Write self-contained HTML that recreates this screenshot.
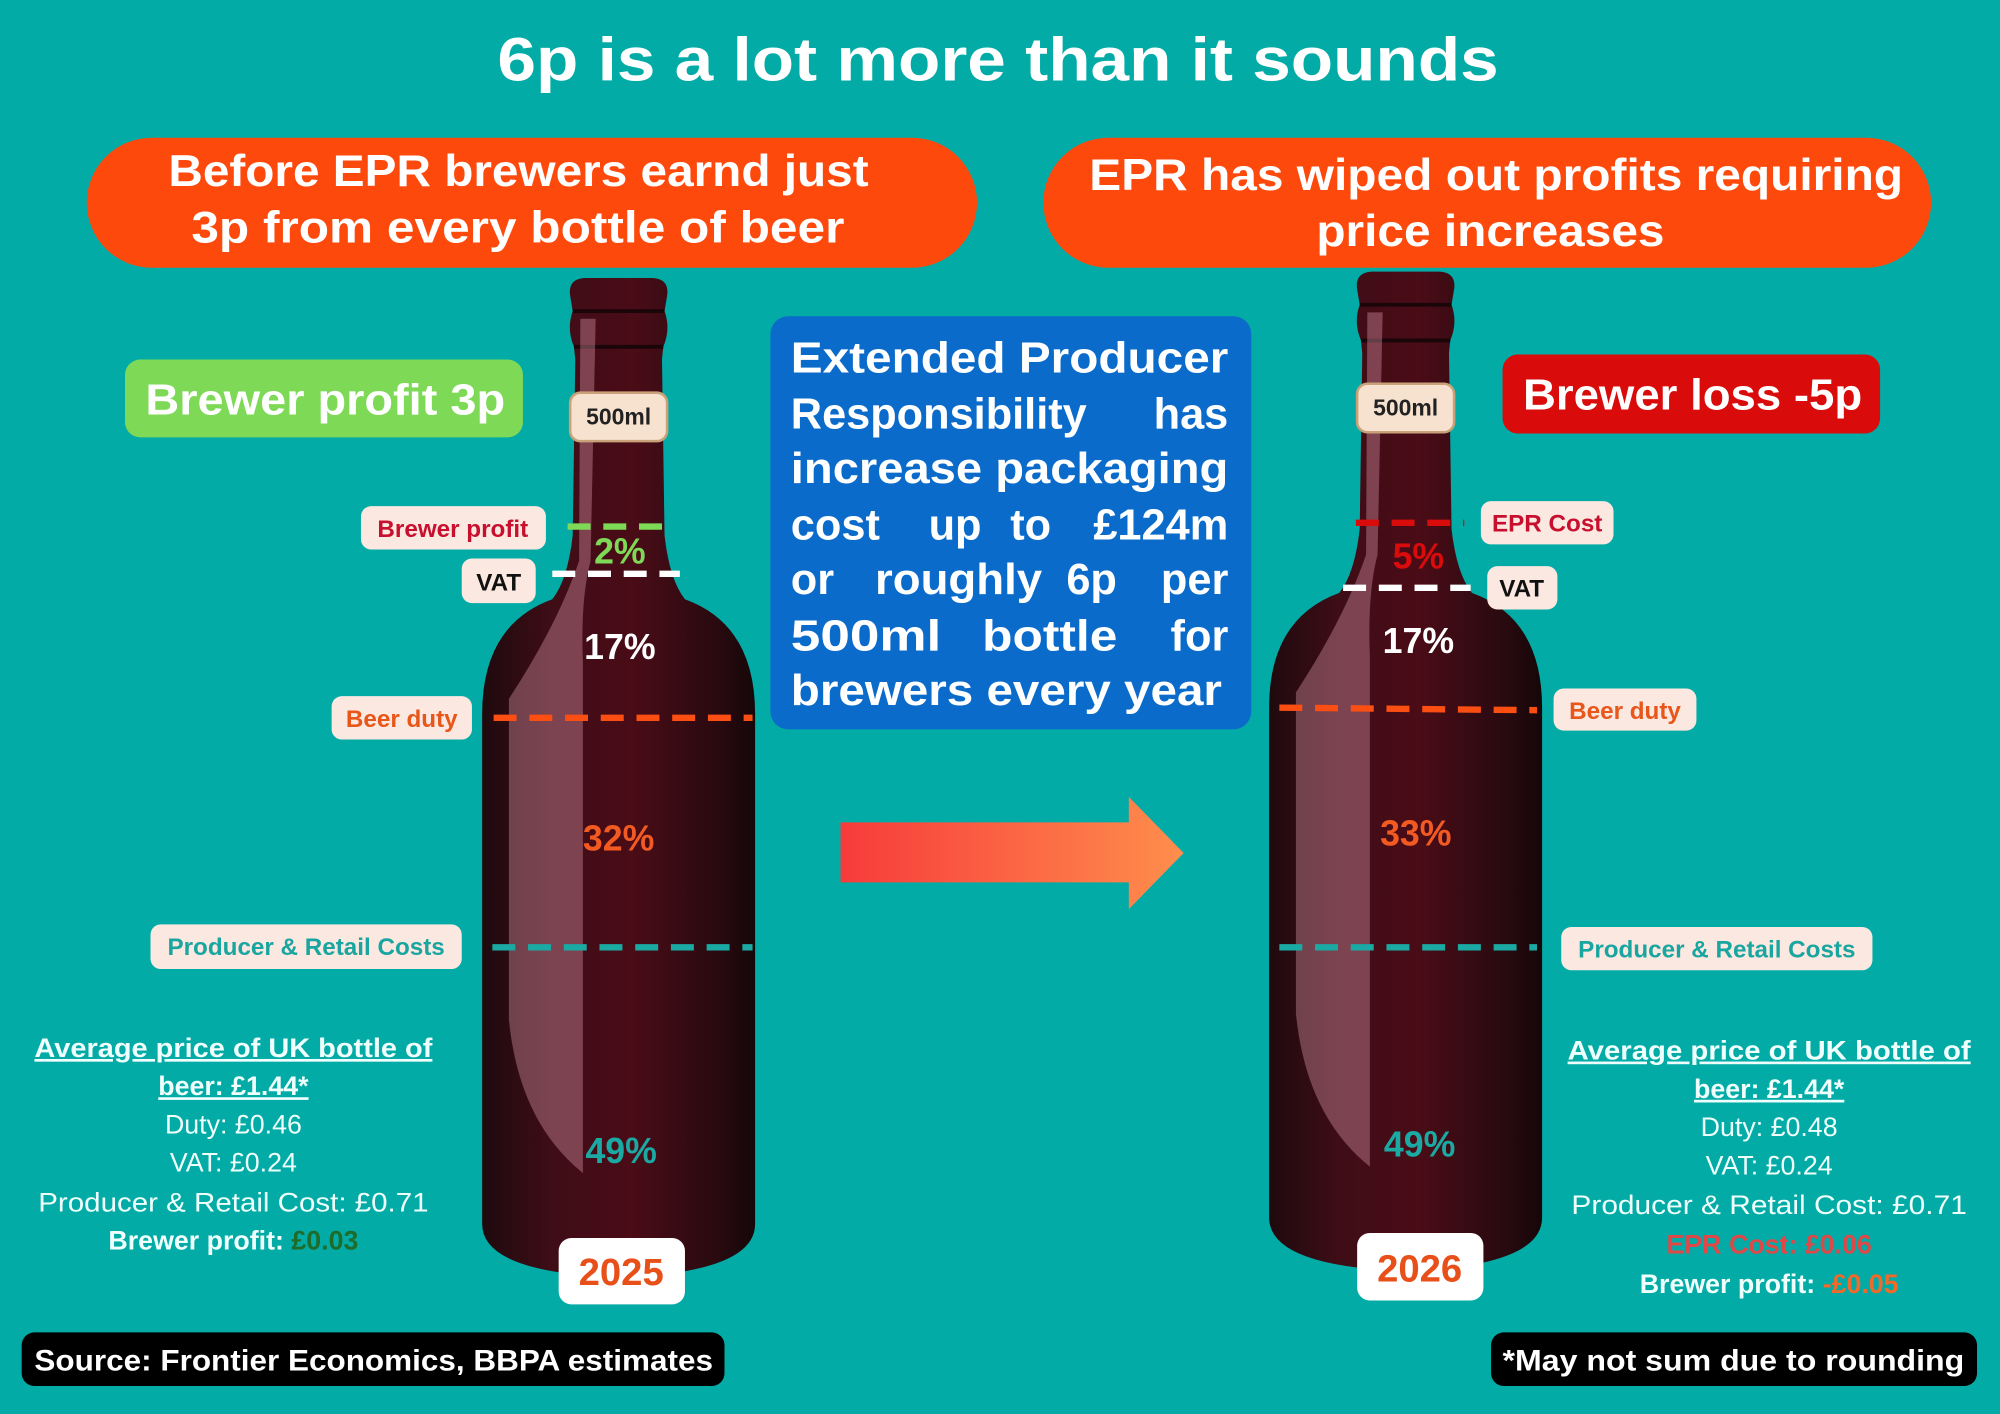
<!DOCTYPE html>
<html><head><meta charset="utf-8"><style>
html,body{margin:0;padding:0;background:#03ABA6;}
svg{display:block;}
text{font-family:"Liberation Sans",sans-serif;}
</style></head><body>
<svg width="2000" height="1414" viewBox="0 0 1568 1109" preserveAspectRatio="none" xmlns="http://www.w3.org/2000/svg">
<defs>
<linearGradient id="bg" x1="0" x2="1" y1="0" y2="0">
<stop offset="0" stop-color="#1e0a0e"/><stop offset="0.25" stop-color="#3e0d16"/><stop offset="0.55" stop-color="#4a0c17"/><stop offset="0.85" stop-color="#2a0a10"/><stop offset="1" stop-color="#160709"/>
</linearGradient>
<linearGradient id="ar" x1="0" x2="1"><stop offset="0" stop-color="#F73B3B"/><stop offset="1" stop-color="#FF8E4C"/></linearGradient>
<g id="bottle">
<path d="M -38,232 Q -40,219 -27,218 L 27,218 Q 40,219 38,232 L 36,244 Q 41,258 35,272 L 34,282 L 36,420 Q 40,455 52,470 Q 107,490 107,560 L 107,960 Q 107,998 0,1002 Q -107,998 -107,960 L -107,560 Q -107,490 -52,470 Q -40,455 -36,420 L -34,282 L -35,272 Q -41,258 -36,244 Z" fill="url(#bg)"/>
<path d="M -36,244 L 36,244" stroke="#1a0508" stroke-width="3"/>
<path d="M -35,272 L 35,272" stroke="#1a0508" stroke-width="3"/>
<path d="M -86,548 L -86,800 Q -78,880 -28,920 L -28,520 Q -30,470 -22,440 L -18,250 L -30,250 L -31,440 Q -48,490 -86,548 Z" fill="rgba(240,170,190,0.35)"/>
</g>
</defs>
<rect width="1568" height="1109" fill="#03ABA6"/>
<text x="390" y="63" font-size="48" font-weight="bold" fill="#fff" textLength="785" lengthAdjust="spacingAndGlyphs">6p is a lot more than it sounds</text>

<rect x="68" y="108" width="698" height="102" rx="51" fill="#FD4A0C"/>
<text x="132" y="146" font-size="35" font-weight="bold" fill="#fff" textLength="549" lengthAdjust="spacingAndGlyphs">Before EPR brewers earnd just</text>
<text x="150" y="190" font-size="35" font-weight="bold" fill="#fff" textLength="512" lengthAdjust="spacingAndGlyphs">3p from every bottle of beer</text>
<rect x="818" y="108" width="696" height="102" rx="51" fill="#FD4A0C"/>
<text x="854" y="149" font-size="35" font-weight="bold" fill="#fff" textLength="638" lengthAdjust="spacingAndGlyphs">EPR has wiped out profits requiring</text>
<text x="1032" y="193" font-size="35" font-weight="bold" fill="#fff" textLength="273" lengthAdjust="spacingAndGlyphs">price increases</text>

<rect x="98" y="282" width="312" height="61" rx="12" fill="#7ED957"/>
<text x="114" y="325" font-size="34" font-weight="bold" fill="#fff" textLength="282" lengthAdjust="spacingAndGlyphs">Brewer profit 3p</text>
<rect x="1178" y="278" width="296" height="62" rx="12" fill="#D90B0B"/>
<text x="1194" y="321" font-size="34" font-weight="bold" fill="#fff" textLength="266" lengthAdjust="spacingAndGlyphs">Brewer loss -5p</text>

<rect x="604" y="248" width="377" height="324" rx="14" fill="#0A6BCB"/>
<g font-size="34" font-weight="bold" fill="#fff">
<text x="620" y="292" textLength="343" lengthAdjust="spacingAndGlyphs">Extended Producer</text>
<text x="620" y="336" textLength="232" lengthAdjust="spacingAndGlyphs">Responsibility</text>
<text x="963" y="336" text-anchor="end">has</text>
<text x="620" y="379" textLength="343" lengthAdjust="spacingAndGlyphs">increase packaging</text>
<text x="620" y="423">cost</text>
<text x="728" y="423">up</text>
<text x="792" y="423">to</text>
<text x="963" y="423" text-anchor="end">£124m</text>
<text x="620" y="466">or</text>
<text x="686" y="466" textLength="131" lengthAdjust="spacingAndGlyphs">roughly</text>
<text x="836" y="466">6p</text>
<text x="963" y="466" text-anchor="end">per</text>
<text x="620" y="510" textLength="118" lengthAdjust="spacingAndGlyphs">500ml</text>
<text x="770" y="510" textLength="106" lengthAdjust="spacingAndGlyphs">bottle</text>
<text x="963" y="510" text-anchor="end">for</text>
<text x="620" y="553" textLength="338" lengthAdjust="spacingAndGlyphs">brewers every year</text>
</g>

<path d="M659,645 L885,645 L885,625 L928,669 L885,713 L885,692 L659,692 Z" fill="url(#ar)"/>

<!-- Left bottle -->
<use href="#bottle" transform="translate(485,0)"/>
<rect x="447" y="308" width="76" height="38" rx="8" fill="#F6E2CF" stroke="#C9A27A" stroke-width="2"/>
<text x="485" y="333" text-anchor="middle" font-size="18" font-weight="bold" fill="#222">500ml</text>
<g stroke-width="5" stroke-dasharray="18 10" fill="none">
<line x1="445" y1="413" x2="527" y2="413" stroke="#7ED957"/>
<line x1="433" y1="450" x2="533" y2="450" stroke="#fff"/>
<line x1="387" y1="563" x2="590" y2="563" stroke="#FB4E13"/>
<line x1="386" y1="743" x2="590" y2="743" stroke="#1AAAA3"/>
</g>
<g font-size="28" font-weight="bold" text-anchor="middle">
<text x="486" y="442" fill="#7ED957">2%</text>
<text x="486" y="517" fill="#fff">17%</text>
<text x="485" y="667" fill="#F25A22">32%</text>
<text x="487" y="912" fill="#1AAAA3">49%</text>
</g>
<rect x="283" y="397" width="145" height="34" rx="8" fill="#FBE8E0"/>
<text x="355" y="421" text-anchor="middle" font-size="19" font-weight="bold" fill="#C8102E">Brewer profit</text>
<rect x="362" y="438" width="58" height="35" rx="8" fill="#FBE8E0"/>
<text x="391" y="463" text-anchor="middle" font-size="19" font-weight="bold" fill="#111">VAT</text>
<rect x="260" y="546" width="110" height="34" rx="8" fill="#FBE8E0"/>
<text x="315" y="570" text-anchor="middle" font-size="19" font-weight="bold" fill="#E8561A">Beer duty</text>
<rect x="118" y="725" width="244" height="35" rx="8" fill="#FBE8E0"/>
<text x="240" y="749" text-anchor="middle" font-size="19" font-weight="bold" fill="#1AA6A0">Producer &amp; Retail Costs</text>
<rect x="438" y="971" width="99" height="52" rx="10" fill="#fff"/>
<text x="487" y="1008" text-anchor="middle" font-size="30" font-weight="bold" fill="#E8501A">2025</text>

<g font-size="21" text-anchor="middle" fill="#EFFFFD">
<text x="183" y="829" font-weight="bold" text-decoration="underline" textLength="312" lengthAdjust="spacingAndGlyphs">Average price of UK bottle of</text>
<text x="183" y="859" font-weight="bold" text-decoration="underline">beer: £1.44*</text>
<text x="183" y="889">Duty: £0.46</text>
<text x="183" y="919">VAT: £0.24</text>
<text x="183" y="950" textLength="306" lengthAdjust="spacingAndGlyphs">Producer &amp; Retail Cost: £0.71</text>
<text x="183" y="980" font-weight="bold">Brewer profit: <tspan fill="#1F6B2A">£0.03</tspan></text>
</g>

<!-- Right bottle -->
<use href="#bottle" transform="translate(1102,-5)"/>
<rect x="1064" y="301" width="76" height="38" rx="8" fill="#F6E2CF" stroke="#C9A27A" stroke-width="2"/>
<text x="1102" y="326" text-anchor="middle" font-size="18" font-weight="bold" fill="#222">500ml</text>
<g stroke-width="5" stroke-dasharray="18 10" fill="none">
<line x1="1063" y1="410" x2="1148" y2="410" stroke="#D90B0B"/>
<line x1="1053" y1="461" x2="1153" y2="461" stroke="#fff"/>
<line x1="1003" y1="555" x2="1205" y2="557" stroke="#FB4E13"/>
<line x1="1003" y1="743" x2="1205" y2="743" stroke="#1AAAA3"/>
</g>
<g font-size="28" font-weight="bold" text-anchor="middle">
<text x="1112" y="446" fill="#D90B0B">5%</text>
<text x="1112" y="512" fill="#fff">17%</text>
<text x="1110" y="663" fill="#F25A22">33%</text>
<text x="1113" y="907" fill="#1AAAA3">49%</text>
</g>
<rect x="1161" y="393" width="104" height="34" rx="8" fill="#FBE8E0"/>
<text x="1213" y="417" text-anchor="middle" font-size="19" font-weight="bold" fill="#C8102E">EPR Cost</text>
<rect x="1166" y="444" width="55" height="34" rx="8" fill="#FBE8E0"/>
<text x="1193" y="468" text-anchor="middle" font-size="19" font-weight="bold" fill="#111">VAT</text>
<rect x="1218" y="540" width="112" height="33" rx="8" fill="#FBE8E0"/>
<text x="1274" y="564" text-anchor="middle" font-size="19" font-weight="bold" fill="#E8561A">Beer duty</text>
<rect x="1224" y="727" width="244" height="34" rx="8" fill="#FBE8E0"/>
<text x="1346" y="751" text-anchor="middle" font-size="19" font-weight="bold" fill="#1AA6A0">Producer &amp; Retail Costs</text>
<rect x="1064" y="967" width="99" height="53" rx="10" fill="#fff"/>
<text x="1113" y="1005" text-anchor="middle" font-size="30" font-weight="bold" fill="#E8501A">2026</text>

<g font-size="21" text-anchor="middle" fill="#EFFFFD">
<text x="1387" y="831" font-weight="bold" text-decoration="underline" textLength="316" lengthAdjust="spacingAndGlyphs">Average price of UK bottle of</text>
<text x="1387" y="861" font-weight="bold" text-decoration="underline">beer: £1.44*</text>
<text x="1387" y="891">Duty: £0.48</text>
<text x="1387" y="921">VAT: £0.24</text>
<text x="1387" y="952" textLength="310" lengthAdjust="spacingAndGlyphs">Producer &amp; Retail Cost: £0.71</text>
<text x="1387" y="983" font-weight="bold" fill="#E04848">EPR Cost: £0.06</text>
<text x="1387" y="1014" font-weight="bold">Brewer profit: <tspan fill="#F06A2A">-£0.05</tspan></text>
</g>

<rect x="17" y="1045" width="551" height="42" rx="10" fill="#000"/>
<text x="27" y="1075" font-size="23" font-weight="bold" fill="#fff" textLength="532" lengthAdjust="spacingAndGlyphs">Source: Frontier Economics, BBPA estimates</text>
<rect x="1169" y="1045" width="381" height="42" rx="10" fill="#000"/>
<text x="1178" y="1075" font-size="23" font-weight="bold" fill="#fff" textLength="362" lengthAdjust="spacingAndGlyphs">*May not sum due to rounding</text>
</svg>
</body></html>
